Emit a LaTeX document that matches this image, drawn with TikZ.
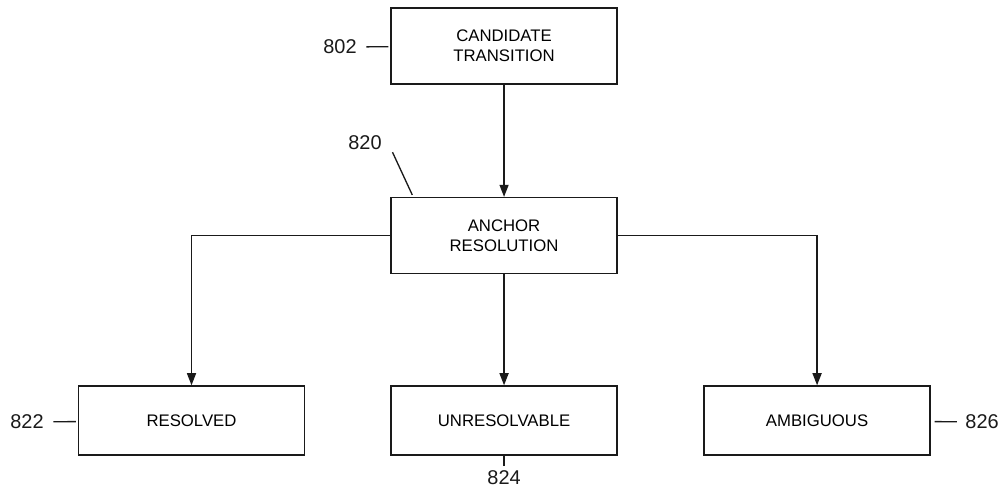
\documentclass[tikz,border=0pt]{standalone}
\usepackage{fontspec}
\setmainfont{Liberation Sans}
\usetikzlibrary{positioning, arrows.meta, calc}
\definecolor{ink}{HTML}{1A1A1A}
\tikzset{
  box/.style    = {rectangle, draw=ink, line width=1pt, fill=white,
                   minimum width=5.98cm, minimum height=2.01cm,
                   align=center, font=\fontsize{12.6}{15}\selectfont},
  leaf/.style   = {box, minimum height=1.83cm},
  refnum/.style = {inner sep=0pt, font=\fontsize{15}{18}\selectfont, text=ink},
  ar/.style     = {-{Triangle[length=3.2mm,width=2.4mm]}, line width=1pt, draw=ink},
  lead/.style   = {line width=1pt, draw=ink},
}

\begin{document}
\begin{tikzpicture}
  \useasboundingbox (0,0) rectangle (26.59,-13.02);

  % main boxes
  \node[box]  (cand)     at (13.336, -1.217)  {CANDIDATE\\TRANSITION};
  \node[box]  (anchor)   at (13.336, -6.231)  {ANCHOR\\RESOLUTION};
  \node[leaf] (resolved) at (5.067, -11.126)  {RESOLVED};
  \node[leaf] (unres)    at (13.336, -11.126) {UNRESOLVABLE};
  \node[leaf] (ambig)    at (21.618, -11.126) {AMBIGUOUS};

  % reference numerals
  \node[refnum] (l802) at (8.996, -1.244)   {802};
  \node[refnum] (l820) at (9.658, -3.784)   {820};
  \node[refnum] (l822) at (0.714, -11.166)  {822};
  \node[refnum] (l824) at (13.336, -12.648) {824};
  \node[refnum] (l826) at (25.984, -11.166) {826};

  % flow
  \draw[ar] (cand) -- (anchor);
  \draw[ar] (anchor.west) -| (resolved.north);
  \draw[ar] (anchor) -- (unres);
  \draw[ar] (anchor.east) -| (ambig.north);

  % lead lines
  \draw[lead, shorten <=0.25cm, shorten >=0.05cm] (l802) -- (cand);
  \draw[lead] ($(l820.south east)+(0.28,-0.05)$) -- ($(anchor.north west)+(0.58,0.05)$);
  \draw[lead, shorten <=0.25cm, shorten >=0.05cm] (l822) -- (resolved);
  \draw[lead, shorten <=0.12cm] (l824) -- (unres);
  \draw[lead, shorten <=0.22cm, shorten >=0.1cm] (l826) -- (ambig);

\end{tikzpicture}
\end{document}
